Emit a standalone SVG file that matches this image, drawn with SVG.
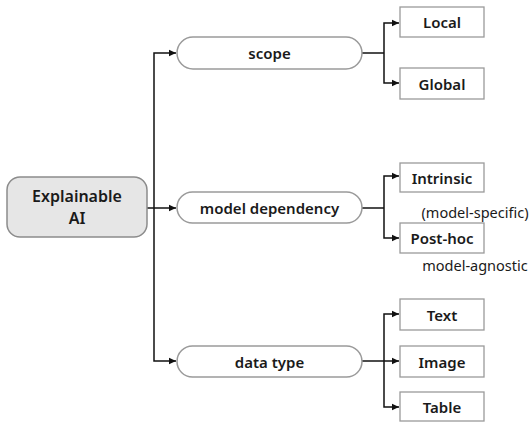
<svg xmlns="http://www.w3.org/2000/svg" width="532" height="422" viewBox="0 0 532 422">
  <style>
    .root { fill: #e6e6e6; stroke: #8c8c8c; stroke-width: 1.5; }
    .pill { fill: #ffffff; stroke: #9a9a9a; stroke-width: 1.5; }
    .leaf { fill: #ffffff; stroke: #9a9a9a; stroke-width: 1.3; }
    .lbl { font-family: "Noto Sans", "Liberation Sans", sans-serif; font-size: 15px; font-weight: 600; fill: #1a1a1a; text-anchor: middle; dominant-baseline: central; }
    .big { font-size: 16px; }
    .note { font-family: "Noto Sans", "Liberation Sans", sans-serif; font-size: 14.5px; fill: #1a1a1a; text-anchor: middle; dominant-baseline: central; }
    .wire { fill: none; stroke: #111111; stroke-width: 1.5; }
  </style>
  <defs>
    <marker id="arrow" markerWidth="8" markerHeight="8" refX="7" refY="4" orient="auto" markerUnits="userSpaceOnUse">
      <path d="M0,0.8 L7,4 L0,7.2 Z" fill="#111111"/>
    </marker>
  </defs>

  <g id="connectors">
    <!-- root to categories -->
    <path class="wire" d="M147,208 H176" marker-end="url(#arrow)"/>
    <path class="wire" d="M154,208 V53 H176" marker-end="url(#arrow)"/>
    <path class="wire" d="M154,208 V361 H176" marker-end="url(#arrow)"/>
    <!-- scope -->
    <path class="wire" d="M362,53 H384"/>
    <path class="wire" d="M384,53 V23 H399" marker-end="url(#arrow)"/>
    <path class="wire" d="M384,53 V83 H399" marker-end="url(#arrow)"/>
    <!-- model dependency -->
    <path class="wire" d="M362,208 H384"/>
    <path class="wire" d="M384,208 V176 H399" marker-end="url(#arrow)"/>
    <path class="wire" d="M384,208 V238 H399" marker-end="url(#arrow)"/>
    <!-- data type -->
    <path class="wire" d="M362,361 H399" marker-end="url(#arrow)"/>
    <path class="wire" d="M384,361 V314 H399" marker-end="url(#arrow)"/>
    <path class="wire" d="M384,361 V407 H399" marker-end="url(#arrow)"/>
  </g>

  <g id="explainable-ai">
    <rect class="root" x="7" y="177" width="140" height="60" rx="13"/>
    <text class="lbl big" x="77" y="196">Explainable</text>
    <text class="lbl big" x="77" y="218">AI</text>
  </g>

  <g id="scope">
    <rect class="pill" x="177" y="37" width="185" height="32" rx="16"/>
    <text class="lbl" x="269.5" y="53">scope</text>
  </g>
  <g id="model-dependency">
    <rect class="pill" x="177" y="192" width="185" height="31" rx="15.5"/>
    <text class="lbl" x="269.5" y="207.5">model dependency</text>
  </g>
  <g id="data-type">
    <rect class="pill" x="177" y="346" width="185" height="31" rx="15.5"/>
    <text class="lbl" x="269.5" y="361.5">data type</text>
  </g>

  <g id="local">
    <rect class="leaf" x="400" y="7" width="84" height="30"/>
    <text class="lbl" x="442" y="22">Local</text>
  </g>
  <g id="global">
    <rect class="leaf" x="400" y="68" width="84" height="31"/>
    <text class="lbl" x="442" y="83.5">Global</text>
  </g>
  <g id="intrinsic">
    <rect class="leaf" x="400" y="163" width="84" height="29"/>
    <text class="lbl" x="442" y="177.5">Intrinsic</text>
    <text class="note" x="475" y="212">(model-specific)</text>
  </g>
  <g id="post-hoc">
    <rect class="leaf" x="400" y="223" width="84" height="30"/>
    <text class="lbl" x="442" y="238">Post-hoc</text>
    <text class="note" x="475" y="265">model-agnostic</text>
  </g>
  <g id="text">
    <rect class="leaf" x="400" y="299" width="84" height="31"/>
    <text class="lbl" x="442" y="314.5">Text</text>
  </g>
  <g id="image">
    <rect class="leaf" x="400" y="346" width="84" height="31"/>
    <text class="lbl" x="442" y="361.5">Image</text>
  </g>
  <g id="table">
    <rect class="leaf" x="400" y="392" width="84" height="29"/>
    <text class="lbl" x="442" y="406.5">Table</text>
  </g>
</svg>
